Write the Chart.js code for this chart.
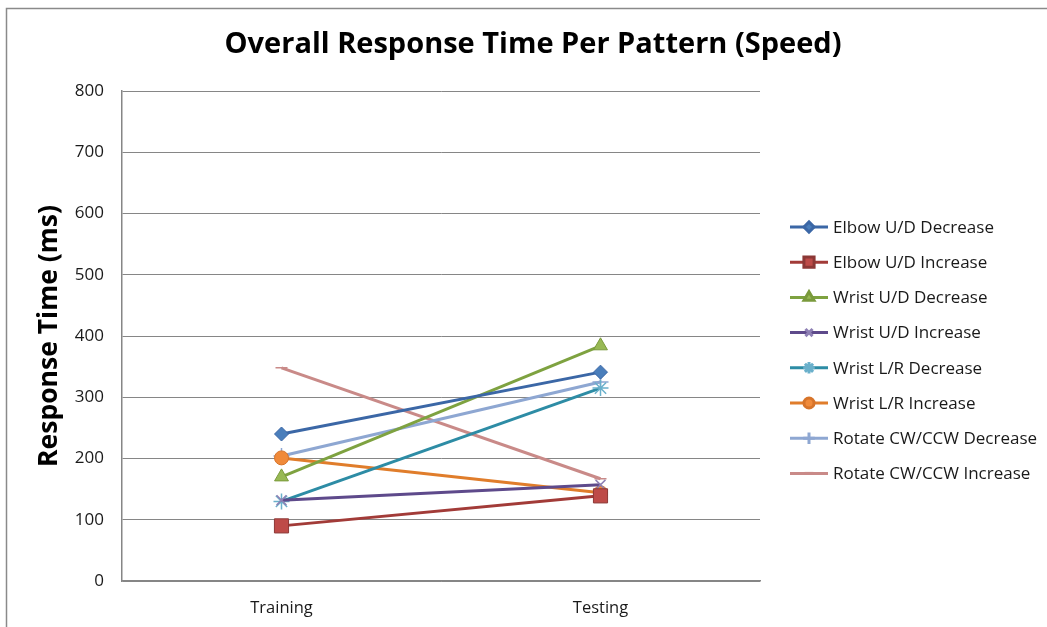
<!DOCTYPE html>
<html>
<head>
<meta charset="utf-8">
<title>Overall Response Time Per Pattern (Speed)</title>
<script src="https://cdn.jsdelivr.net/npm/chart.js@4/dist/chart.umd.min.js"></script>
<style>
  html, body { margin: 0; padding: 0; background: #fff; }
  #wrap { width: 1047px; height: 627px; position: relative; }
</style>
</head>
<body>
<div id="wrap"><canvas id="speedChart" width="1047" height="627"></canvas></div>
<script>
// Response times (ms) per pattern, Training vs Testing
const phases = ['Training', 'Testing'];
const yTicks = [0, 100, 200, 300, 400, 500, 600, 700, 800];

const elbowUDDecrease = [240, 341];
const elbowUDIncrease = [90, 139];
const wristUDDecrease = [170, 384];
const wristUDIncrease = [132, 157];
const wristLRDecrease = [130, 315];
const wristLRIncrease = [201, 144];
const rotateDecrease = [204, 325];
const rotateIncrease = [348, 167];

const FONT = '"Open Sans", Lato, sans-serif';

const series = [
  { label: 'Elbow U/D Decrease', data: elbowUDDecrease, line: '#3b67a6', fill: '#4a7ebb', edge: '#3b67a6', style: 'rectRot', r: 7 },
  { label: 'Elbow U/D Increase', data: elbowUDIncrease, line: '#a23b38', fill: '#be4b48', edge: '#8c3836', style: 'rect', r: 10 },
  { label: 'Wrist U/D Decrease', data: wristUDDecrease, line: '#7ea240', fill: '#98b954', edge: '#7a9a3c', style: 'triangle', r: 8 },
  { label: 'Wrist U/D Increase', data: wristUDIncrease, line: '#5e4a8b', fill: '#8e80b4', edge: '#8e80b4', style: 'crossRot', r: 7 },
  { label: 'Wrist L/R Decrease', data: wristLRDecrease, line: '#2d8ca5', fill: '#6ab0cb', edge: '#6ab0cb', style: 'star', r: 8 },
  { label: 'Wrist L/R Increase', data: wristLRIncrease, line: '#e07d2b', fill: '#f08a3a', edge: '#d7742a', style: 'circle', r: 7 },
  { label: 'Rotate CW/CCW Decrease', data: rotateDecrease, line: '#8ea7d2', fill: '#8ea7d2', edge: '#8ea7d2', style: 'cross', r: 8 },
  { label: 'Rotate CW/CCW Increase', data: rotateIncrease, line: '#c98a88', fill: '#c98a88', edge: '#c98a88', style: 'line', r: 6 }
];

const crossStyles = ['cross', 'crossRot', 'star', 'line'];

// white background, outer frame, title and the line+marker legend
const decorPlugin = {
  id: 'decor',
  beforeDraw(chart) {
    const ctx = chart.ctx;
    ctx.save();
    ctx.fillStyle = '#fff';
    ctx.fillRect(0, 0, chart.width, chart.height);
    ctx.strokeStyle = '#8a8a8a';
    ctx.lineWidth = 1.5;
    ctx.strokeRect(6.5, 8.5, chart.width + 50, chart.height + 50);
    ctx.restore();
  },
  afterDraw(chart) {
    const ctx = chart.ctx;
    ctx.save();
    ctx.fillStyle = '#000';
    ctx.font = 'bold 29px ' + FONT;
    ctx.textAlign = 'center';
    ctx.textBaseline = 'middle';
    ctx.fillText('Overall Response Time Per Pattern (Speed)', 533, 45);

    ctx.font = '17px ' + FONT;
    ctx.textAlign = 'left';
    series.forEach((s, i) => {
      const y = 227 + i * 35.2;
      ctx.strokeStyle = s.line;
      ctx.lineWidth = 3;
      ctx.beginPath();
      ctx.moveTo(790, y);
      ctx.lineTo(828, y);
      ctx.stroke();
      ctx.fillStyle = s.fill;
      ctx.strokeStyle = s.edge;
      Chart.helpers.drawPoint(ctx, {
        pointStyle: s.style,
        radius: s.r * 0.72,
        rotation: 0,
        borderWidth: crossStyles.includes(s.style) ? 1.5 : 1
      }, 809, y);
      ctx.fillStyle = '#1a1a1a';
      ctx.fillText(s.label, 833, y + 1);
    });
    ctx.restore();
  }
};

const datasets = series.map(s => ({
  label: s.label,
  data: s.data,
  borderColor: s.line,
  borderWidth: 3,
  tension: 0,
  pointStyle: s.style,
  pointRadius: s.r,
  pointHoverRadius: s.r,
  pointBackgroundColor: s.fill,
  pointBorderColor: s.edge,
  pointBorderWidth: crossStyles.includes(s.style) ? 1.5 : 1
}));

new Chart(document.getElementById('speedChart'), {
  type: 'line',
  data: { labels: phases, datasets: datasets },
  options: {
    responsive: false,
    animation: false,
    layout: { padding: { top: 91, right: 287, left: 0, bottom: 0 } },
    plugins: {
      legend: { display: false },
      title: { display: false },
      tooltip: { enabled: false }
    },
    scales: {
      x: {
        offset: true,
        grid: { display: false, drawTicks: false },
        border: { display: true, color: '#868686', width: 1.5 },
        ticks: { color: '#1a1a1a', font: { family: FONT, size: 16.5 }, padding: 17 },
        afterFit: s => { s.height = 46; }
      },
      y: {
        min: 0,
        max: 800,
        afterBuildTicks: s => { s.ticks = yTicks.map(v => ({ value: v })); },
        grid: { color: '#868686', lineWidth: 1, drawTicks: false },
        border: { display: true, color: '#868686', width: 1.5 },
        ticks: { color: '#1a1a1a', font: { family: FONT, size: 17 }, padding: 18 },
        title: {
          display: true,
          text: 'Response Time (ms)',
          color: '#000',
          font: { family: FONT, size: 26.5, weight: 'bold' },
          padding: { top: 34, bottom: 0 }
        },
        afterFit: s => { s.width = 122; }
      }
    }
  },
  plugins: [decorPlugin]
});
</script>
</body>
</html>
